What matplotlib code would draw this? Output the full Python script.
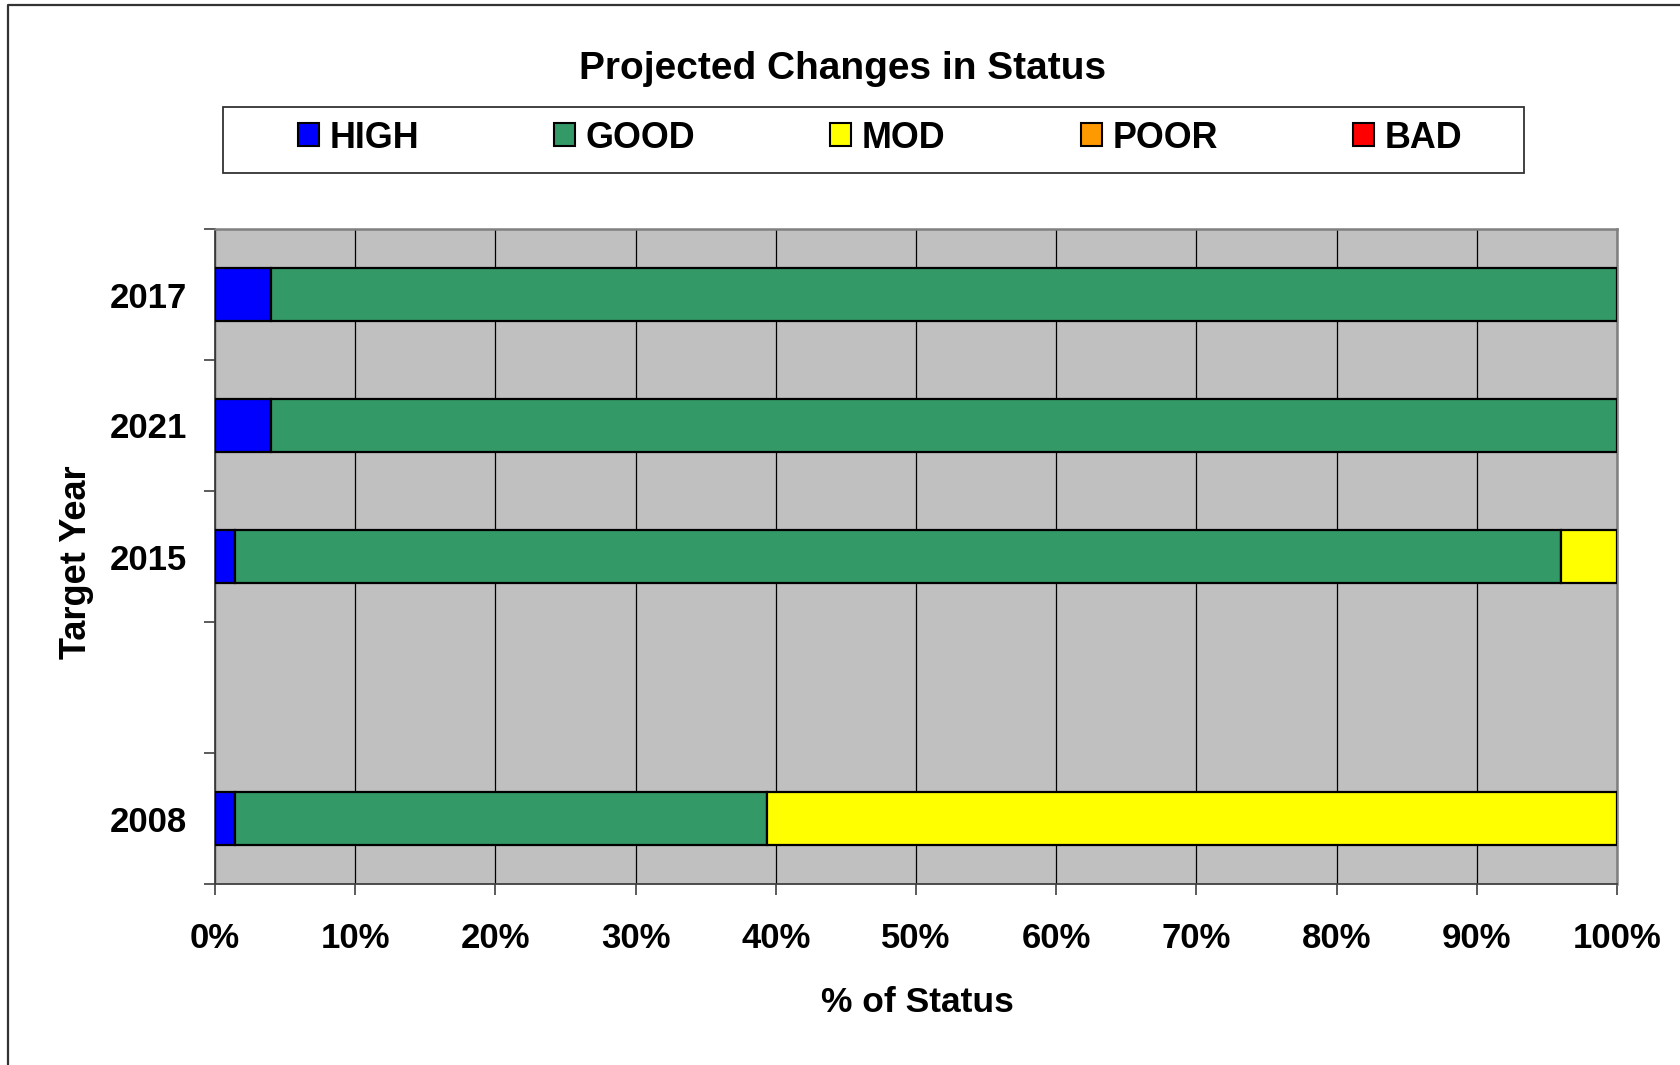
import matplotlib
matplotlib.use('Agg')
import matplotlib.pyplot as plt
from matplotlib.patches import Patch, Rectangle
from matplotlib.lines import Line2D

# --- Chart data (top row first, the blank slot is an empty category) ---
years = ['2017', '2021', '2015', '', '2008']
high = [4.0, 4.0, 1.4, 0.0, 1.4]
good = [96.0, 96.0, 94.6, 0.0, 38.0]
mod = [0.0, 0.0, 4.0, 0.0, 60.6]
poor = [0.0, 0.0, 0.0, 0.0, 0.0]
bad = [0.0, 0.0, 0.0, 0.0, 0.0]

status_labels = ['HIGH', 'GOOD', 'MOD', 'POOR', 'BAD']
status_colors = ['#0000FF', '#339966', '#FFFF00', '#FF9900', '#FF0000']
x_ticks = [0, 10, 20, 30, 40, 50, 60, 70, 80, 90, 100]

W, H = 1681, 1065
FS = 25

plt.rcParams['font.family'] = ['Liberation Sans', 'DejaVu Sans']
plt.rcParams['font.weight'] = 'bold'

fig = plt.figure(figsize=(W / 100, H / 100), dpi=100)

# Plot area placed in pixel terms of the original picture
ax = fig.add_axes([215 / W, (H - 884) / H, 1402 / W, 655 / H])
ax.set_facecolor('#C0C0C0')
ax.set_xlim(0, 100)
ax.set_ylim(-0.5, len(years) - 0.5)

# Slots from the top down
positions = list(range(len(years) - 1, -1, -1))

series = [high, good, mod, poor, bad]
left = [0.0] * len(years)
for values, color in zip(series, status_colors):
    for i, v in enumerate(values):
        if v > 0:
            ax.barh(positions[i], v, left=left[i], height=0.4, color=color,
                    edgecolor='black', linewidth=1.6, zorder=3)
        left[i] += v

# Vertical grid lines
ax.set_axisbelow(True)
ax.xaxis.grid(True, color='black', linewidth=0.9)
ax.yaxis.grid(False)

# X axis: percentages
ax.set_xticks(x_ticks)
ax.set_xticklabels([f'{v}%' for v in x_ticks], fontsize=FS, fontweight='bold')
ax.tick_params(axis='x', length=8, width=1.2, color='#404040', pad=19)

# Y axis: ticks on the slot boundaries, labels at slot centres
ax.set_yticks([p - 0.5 for p in range(len(years) + 1)])
ax.set_yticklabels([])
ax.set_yticks(positions, minor=True)
ax.set_yticklabels(years, minor=True, fontsize=FS, fontweight='bold')
ax.tick_params(axis='y', which='major', length=8, width=1.2, color='#404040')
ax.tick_params(axis='y', which='minor', length=0, pad=20)

for side in ['left', 'bottom']:
    ax.spines[side].set_color('#404040')
    ax.spines[side].set_linewidth(1.3)
for side in ['top', 'right']:
    ax.spines[side].set_color('#808080')
    ax.spines[side].set_linewidth(1.8)

# Titles and axis labels
fig.text(843 / W, 1 - 69 / H, 'Projected Changes in Status', ha='center',
         va='center', fontsize=28, fontweight='bold')
fig.text(77 / W, 1 - 562 / H, 'Target Year', ha='center', va='center',
         rotation=90, fontsize=26, fontweight='bold')
fig.text(917 / W, 1 - 1002 / H, '% of Status', ha='center', va='center',
         fontsize=25.5, fontweight='bold')

# Legend with a separate frame box
handles = [Patch(facecolor=c, edgecolor='black', linewidth=1.5) for c in status_colors]
fig.legend(handles, status_labels, ncol=5, loc='center',
           bbox_to_anchor=(880 / W, 1 - 138 / H), frameon=False,
           handlelength=0.58, handleheight=0.6, handletextpad=0.3,
           columnspacing=3.77, prop={'size': 25.8, 'weight': 'bold'})
fig.patches.append(Rectangle((223 / W, 1 - 173 / H), (1524.5 - 223) / W, 66 / H,
                             transform=fig.transFigure, fill=False,
                             edgecolor='#333333', linewidth=1.3))

# Outer chart border (left and top edges only are visible)
fig.lines.append(Line2D([8 / W, 8 / W, 1], [0, 1 - 5 / H, 1 - 5 / H],
                        transform=fig.transFigure, color='#333333', linewidth=1.6))

fig.savefig('out.png', dpi=100)
